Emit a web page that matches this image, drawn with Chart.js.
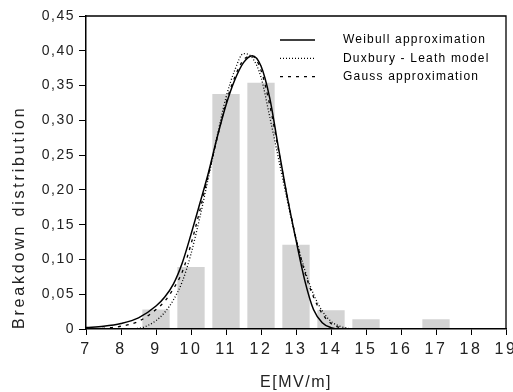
<!DOCTYPE html>
<html>
<head>
<meta charset="utf-8">
<script src="https://cdn.jsdelivr.net/npm/chart.js@4.4.1/dist/chart.umd.min.js"></script>
<style>
  html, body { margin: 0; padding: 0; background: #fff; }
  #wrap { width: 513px; height: 392px; }
</style>
</head>
<body>
<div id="wrap"><canvas id="c" width="513" height="392"></canvas></div>
<script>
// ---- data ----
const barX = [9, 10, 11, 12, 13, 14, 15, 17];
const barY = [0.028, 0.089, 0.338, 0.354, 0.121, 0.027, 0.014, 0.014];

const curveX = [7, 7.5, 8, 8.5, 9, 9.25, 9.5, 9.75, 10, 10.25, 10.5, 10.75, 11, 11.25, 11.5, 11.75, 12, 12.25, 12.5, 12.75, 13, 13.25, 13.5, 13.75, 14, 14.25, 14.5];
const weibullY = [0.002, 0.004, 0.008, 0.016, 0.033, 0.046, 0.065, 0.095, 0.136, 0.18, 0.225, 0.276, 0.322, 0.358, 0.383, 0.393, 0.378, 0.332, 0.26, 0.19, 0.128, 0.07, 0.028, 0.009, 0.002, 0, 0];
const duxburyY = [0, 0, 0, 0.001, 0.012, 0.024, 0.042, 0.068, 0.108, 0.16, 0.218, 0.278, 0.333, 0.372, 0.396, 0.39, 0.362, 0.305, 0.245, 0.185, 0.13, 0.085, 0.05, 0.026, 0.011, 0.004, 0.001];
const gaussY = [0, 0.001, 0.004, 0.011, 0.028, 0.04, 0.058, 0.082, 0.122, 0.17, 0.222, 0.275, 0.325, 0.362, 0.387, 0.392, 0.372, 0.322, 0.257, 0.19, 0.13, 0.082, 0.046, 0.022, 0.008, 0.002, 0];

const seriesLabels = ['Weibull approximation', 'Duxbury - Leath model', 'Gauss approximation'];
const xTickLabels = ['7', '8', '9', '10', '11', '12', '13', '14', '15', '16', '17', '18', '19'];
const yTickLabels = ['0', '0,05', '0,10', '0,15', '0,20', '0,25', '0,30', '0,35', '0,40', '0,45'];
const xTitle = 'E[MV/m]';
const yTitle = 'Breakdown distribution';

// ---- build ----
const toPts = (xs, ys) => xs.map((x, i) => ({ x: x, y: ys[i] }));
const FONT = '"Liberation Sans", Arial, Helvetica, sans-serif';
Chart.defaults.font.family = FONT;
Chart.defaults.color = '#1a1a1a';

const spacingPlugin = {
  id: 'spacing',
  beforeDraw(chart) {
    Object.values(chart.scales).forEach(s => {
      if (s._lsPatched) return;
      s._lsPatched = true;
      const labelLS = s.axis === 'x' ? '2.5px' : '1.5px';
      const titleLS = s.axis === 'x' ? '1.5px' : '2.8px';
      const dl = s.drawLabels;
      s.drawLabels = function (a) {
        const c = this.ctx; const p = c.letterSpacing;
        c.letterSpacing = labelLS; dl.call(this, a); c.letterSpacing = p || '0px';
      };
      const dt = s.drawTitle;
      s.drawTitle = function (a) {
        const c = this.ctx; const p = c.letterSpacing;
        c.letterSpacing = titleLS; dt.call(this, a); c.letterSpacing = p || '0px';
      };
    });
  }
};

const framePlugin = {
  id: 'frame',
  afterDraw(chart) {
    const { ctx, chartArea: a } = chart;
    ctx.save();
    ctx.strokeStyle = '#000';
    ctx.lineWidth = 1.3;
    ctx.beginPath();
    ctx.moveTo(a.left, a.top);
    ctx.lineTo(a.right, a.top);
    ctx.lineTo(a.right, a.bottom);
    ctx.stroke();

    // inside legend
    ctx.letterSpacing = '1.2px';
    ctx.font = '12px ' + FONT;
    ctx.fillStyle = '#000';
    ctx.textBaseline = 'middle';
    ctx.textAlign = 'left';
    let k = 0;
    chart.data.datasets.forEach(ds => {
      if (ds.type !== 'line') return;
      const y = a.top + 24 + k * 18.3;
      ctx.strokeStyle = '#000';
      ctx.lineWidth = ds.borderWidth;
      ctx.setLineDash(ds.borderDash || []);
      ctx.beginPath();
      ctx.moveTo(a.right - 226, y);
      ctx.lineTo(a.right - 191, y);
      ctx.stroke();
      ctx.setLineDash([]);
      ctx.fillText(ds.label, a.right - 163, y);
      k++;
    });
    ctx.restore();
  }
};

new Chart(document.getElementById('c'), {
  type: 'line',
  data: {
    datasets: [
      { type: 'line', label: seriesLabels[0], data: toPts(curveX, weibullY), borderColor: '#000', borderWidth: 1.5, pointRadius: 0, cubicInterpolationMode: 'monotone', fill: false, order: 1 },
      { type: 'line', label: seriesLabels[1], data: toPts(curveX, duxburyY), borderColor: '#000', borderWidth: 1.3, borderDash: [1, 2], pointRadius: 0, cubicInterpolationMode: 'monotone', fill: false, order: 2 },
      { type: 'line', label: seriesLabels[2], data: toPts(curveX, gaussY), borderColor: '#000', borderWidth: 1.3, borderDash: [3, 5], pointRadius: 0, cubicInterpolationMode: 'monotone', fill: false, order: 3 },
      { type: 'bar', label: 'measured', data: toPts(barX, barY), backgroundColor: '#d3d3d3', borderWidth: 0, barPercentage: 0.78, categoryPercentage: 1, order: 10 }
    ]
  },
  options: {
    responsive: false,
    animation: false,
    devicePixelRatio: 1,
    layout: { padding: { top: 16, right: 7, left: 0, bottom: 0 } },
    plugins: { legend: { display: false }, tooltip: { enabled: false } },
    scales: {
      x: {
        type: 'linear', min: 7, max: 19, offset: false,
        grid: { display: true, drawOnChartArea: false, drawTicks: true, tickLength: 6, color: '#000', lineWidth: 1, offset: false },
        border: { display: true, color: '#000', width: 1.5, z: 1 },
        ticks: { stepSize: 1, padding: 5, font: { size: 16 }, color: '#222', maxRotation: 0, autoSkip: false,
          callback: (v, i) => xTickLabels[i] !== undefined ? xTickLabels[i] : String(v) },
        title: { display: true, text: xTitle, font: { size: 16 }, color: '#222', padding: { top: 0, bottom: 0 } },
        afterFit: s => { s.height = 63; s.paddingLeft = 0; s.paddingRight = 0; }
      },
      y: {
        type: 'linear', min: 0, max: 0.45,
        grid: { display: true, drawOnChartArea: false, drawTicks: true, tickLength: 7, color: '#000', lineWidth: 1 },
        border: { display: true, color: '#000', width: 1.5, z: 1 },
        ticks: { stepSize: 0.05, padding: 4, font: { size: 14 }, color: '#222', autoSkip: false,
          callback: (v, i) => yTickLabels[i] !== undefined ? yTickLabels[i] : String(v) },
        title: { display: true, text: yTitle, align: 'start', font: { size: 16 }, color: '#222', padding: { top: 10, bottom: 0 } },
        afterFit: s => { s.width = 86; s.paddingTop = 0; s.paddingBottom = 0; }
      }
    }
  },
  plugins: [spacingPlugin, framePlugin]
});
</script>
</body>
</html>
